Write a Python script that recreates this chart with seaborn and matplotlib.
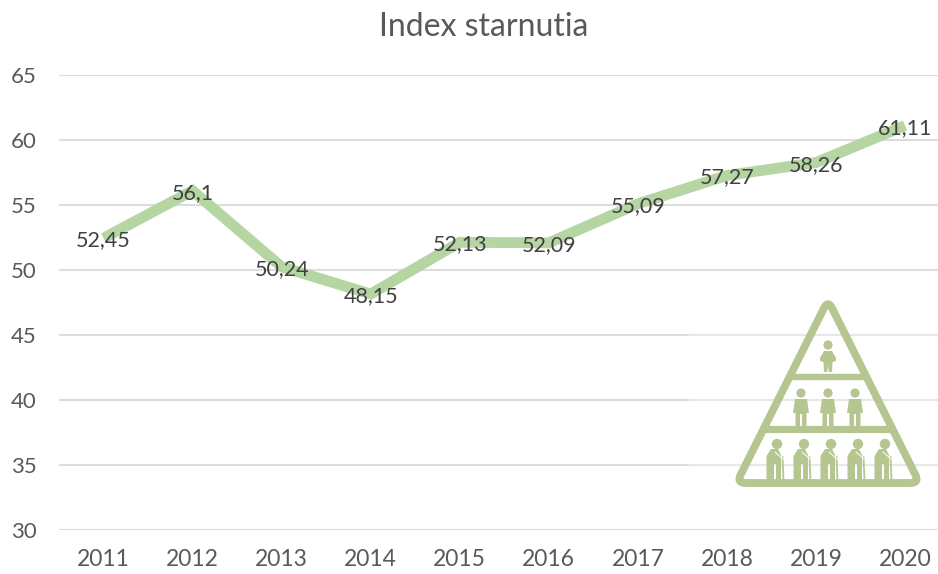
import matplotlib
matplotlib.use("Agg")
import matplotlib.pyplot as plt
from matplotlib.patches import Circle, PathPatch, Polygon, Rectangle
from matplotlib.path import Path
import pandas as pd
import seaborn as sns

years = ["2011", "2012", "2013", "2014", "2015", "2016", "2017", "2018", "2019", "2020"]
index_values = [52.45, 56.1, 50.24, 48.15, 52.13, 52.09, 55.09, 57.27, 58.26, 61.11]
value_labels = ["52,45", "56,1", "50,24", "48,15", "52,13", "52,09", "55,09", "57,27", "58,26", "61,11"]
y_ticks = [30, 35, 40, 45, 50, 55, 60, 65]

W, H = 938, 574
TEXT = "#595959"
LINE = "#B5D5A3"
ICON = "#B5C690"

sns.set_theme(style="white")
plt.rcParams["font.family"] = ["Lato", "DejaVu Sans"]

df = pd.DataFrame({"year": years, "value": index_values})

fig = plt.figure(figsize=(W / 100, H / 100), dpi=100)
ax = fig.add_axes([59 / W, 1 - 530 / H, (W - 59) / W, 455 / H])

sns.lineplot(data=df, x="year", y="value", ax=ax, color=LINE, linewidth=7.8,
             sort=False, zorder=3, solid_joinstyle="miter", solid_capstyle="butt")

for i, lab in enumerate(value_labels):
    ax.annotate(lab, (i, index_values[i]), xytext=(0, -1.5), textcoords="offset points",
                ha="center", va="center", fontsize=15.5, color="#404040", zorder=4)

ax.set_xlim(-0.5, (W - 104) / 89)
ax.set_ylim(30, 65)
ax.set_yticks(y_ticks)
ax.set_xlabel("")
ax.set_ylabel("")
ax.grid(axis="y", color="#DDDDDD", linewidth=1.5, zorder=0)
ax.set_axisbelow(True)
for s in ax.spines.values():
    s.set_visible(False)
ax.tick_params(axis="both", length=0, labelcolor=TEXT)
ax.tick_params(axis="y", labelsize=16, pad=16)
ax.tick_params(axis="x", labelsize=16.5, pad=14)
for t in ax.get_yticklabels():
    t.set_clip_on(False)

fig.text(484 / W, 1 - 27 / H, "Index starnutia", ha="center", va="center",
         fontsize=23, color=TEXT)

# pyramid icon, drawn in pixel coordinates on an overlay
ov = fig.add_axes([0, 0, 1, 1], facecolor="none")
ov.set_xlim(0, W)
ov.set_ylim(H, 0)
ov.axis("off")
ov.add_patch(Rectangle((689, 300), 249, 195, color="white", alpha=0.35, lw=0))

# outline with rounded corners
verts = [(832, 308), (828, 300), (824, 308),
         (741, 474), (736, 483), (746, 483),
         (910, 483), (920, 483), (915, 474),
         (832, 308)]
codes = [Path.MOVETO, Path.CURVE3, Path.CURVE3,
         Path.LINETO, Path.CURVE3, Path.CURVE3,
         Path.LINETO, Path.CURVE3, Path.CURVE3,
         Path.LINETO]
ov.add_patch(PathPatch(Path(verts, codes), fill=False, edgecolor=ICON, linewidth=5.6,
                       joinstyle="round"))
ov.plot([788, 868], [377, 377], color=ICON, lw=4.6, solid_capstyle="butt")
ov.plot([762, 894], [429, 429], color=ICON, lw=5.2, solid_capstyle="butt")


def baby(x):
    ov.add_patch(Circle((x, 345), 4.6, color=ICON, lw=0))
    ov.add_patch(Polygon([(x - 4, 351), (x + 4, 351), (x + 8, 358), (x + 8, 361),
                          (x + 4.5, 362), (x + 4, 372), (x + 0.8, 372), (x, 366),
                          (x - 0.8, 372), (x - 4, 372), (x - 4.5, 362), (x - 8, 361),
                          (x - 8, 358)],
                         closed=True, color=ICON, lw=0))


def adult(x):
    ov.add_patch(Circle((x, 393), 4.6, color=ICON, lw=0))
    ov.add_patch(Polygon([(x - 6, 399), (x + 6, 399), (x + 8, 413), (x + 5.5, 413),
                          (x + 5.5, 427), (x + 1, 427), (x + 1, 414), (x - 1, 414),
                          (x - 1, 427), (x - 5.5, 427), (x - 5.5, 413), (x - 8, 413)],
                         closed=True, color=ICON, lw=0))


def elder(x):
    ov.add_patch(Circle((x, 444), 5.2, color=ICON, lw=0))
    ov.add_patch(Polygon([(x - 6, 449), (x + 1, 449), (x + 4, 455), (x + 4, 480),
                          (x - 1, 480), (x - 1, 464), (x - 3, 464), (x - 3, 480),
                          (x - 10.5, 480), (x - 10.5, 456)],
                         closed=True, color=ICON, lw=0))
    ov.plot([x + 5.5, x + 6.5], [457, 480], color=ICON, lw=1.3)
    ov.plot([x - 2, x + 6], [452, 459], color="white", lw=0.7)


baby(828)
for cx in [801, 828, 855]:
    adult(cx)
for cx in [777, 804, 831, 858, 885]:
    elder(cx)

fig.savefig("out.png", dpi=100)
